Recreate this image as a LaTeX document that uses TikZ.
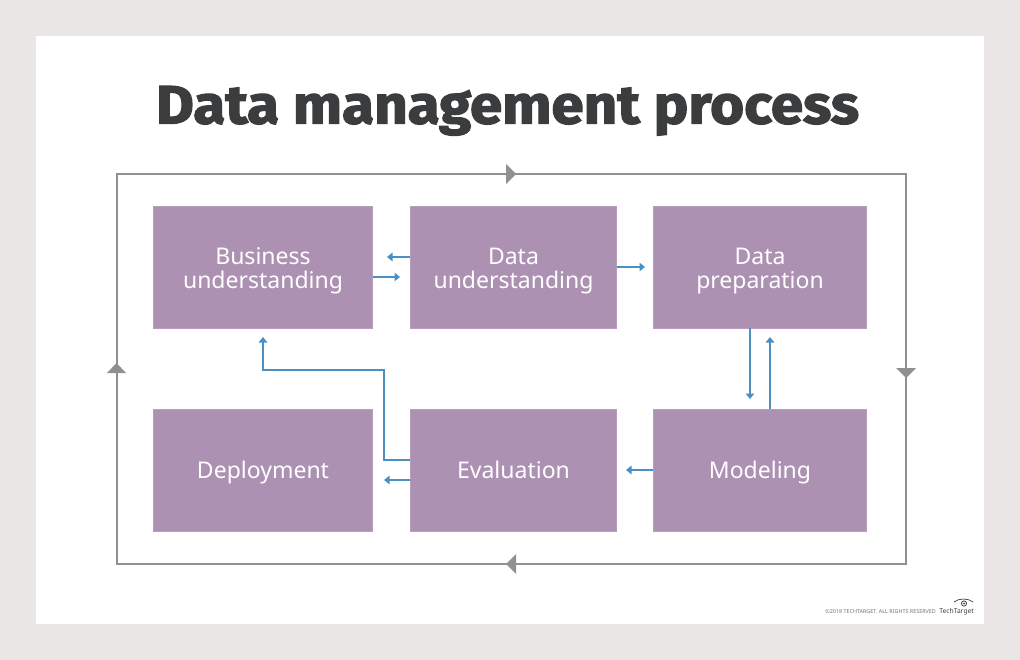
\documentclass[tikz,border=0pt]{standalone}
\usepackage{fontspec}
\setmainfont{Noto Sans}
\newfontfamily\titlefont{Fira Sans}[UprightFont=* Bold,RawFeature={embolden=2.4},FakeStretch=1.08]
\usetikzlibrary{arrows.meta,calc}
\definecolor{bgout}{HTML}{EAE6E5}
\definecolor{boxfill}{HTML}{AD91B2}
\definecolor{boxline}{HTML}{B79FBB}
\definecolor{blueline}{HTML}{4A90C4}
\definecolor{loopline}{HTML}{8F9092}
\definecolor{titlecol}{HTML}{3B3C3E}
\tikzset{
  x=1pt,y=-1pt,
  stepbox/.style={draw=boxline,line width=0.8pt,fill=boxfill,inner sep=0pt,anchor=north west,minimum height=121.2pt},
  steptext/.style={text=white,inner sep=0pt,align=center,font=\fontsize{23}{23.5}\selectfont},
  flow/.style={draw=blueline,line width=1.3pt,-{Triangle[width=8.5pt,length=5.5pt]}},
  loopedge/.style={draw=loopline,line width=1.4pt},
  loophead/.style={fill=loopline,draw=none},
}
\begin{document}
\begin{tikzpicture}
\useasboundingbox (0,0) rectangle (1020,660);
\fill[bgout] (0,0) rectangle (1020,660);
\fill[white] (36,36) rectangle (984,624);
\node[font=\titlefont\fontsize{54}{60}\selectfont,text=titlecol,inner sep=0pt,anchor=base] (title) at (507.5,123.5) {Data management process};

% outer loop
\coordinate (lnw) at (117,174);
\coordinate (lne) at (906,174);
\coordinate (lse) at (906,564);
\coordinate (lsw) at (117,564);
\draw[loopedge] (lnw) -- (lne) -- (lse) -- (lsw) -- cycle;
\fill[loophead] (506,164) -- (516,174) -- (506,184) -- cycle;
\fill[loophead] (896,368) -- (916,368) -- (906,378) -- cycle;
\fill[loophead] (516,554) -- (506,564) -- (516,574) -- cycle;
\fill[loophead] (107,373) -- (126,373) -- (116.5,363) -- cycle;

% boxes
\node[stepbox,minimum width=218.4pt] (bu) at (153.4,206.4) {};
\node[stepbox,minimum width=205.4pt] (du) at (410.4,206.4) {};
\node[stepbox,minimum width=212.4pt] (dp) at (653.4,206.4) {};
\node[stepbox,minimum width=218.4pt] (dep) at (153.4,409.4) {};
\node[stepbox,minimum width=205.4pt] (ev) at (410.4,409.4) {};
\node[stepbox,minimum width=212.4pt] (mo) at (653.4,409.4) {};

% labels
\node[steptext] (tbu) at ([yshift=-3.5pt]bu.center) {Business\\understanding};
\node[steptext] (tdu) at ([yshift=-3.5pt]du.center) {Data\\understanding};
\node[steptext] (tdp) at ([yshift=-3.5pt]dp.center) {Data\\preparation};
\node[steptext,anchor=base] (tdep) at ([yshift=-8pt]dep.center) {Deployment};
\node[steptext,anchor=base] (tev) at ([yshift=-8pt]ev.center) {Evaluation};
\node[steptext,anchor=base] (tmo) at ([yshift=-8pt]mo.center) {Modeling};

% connector free ends
\coordinate (a1) at (387,257);
\coordinate (a2) at (400,277);
\coordinate (a3) at (645,267);
\coordinate (a4) at (750,399);
\coordinate (a5) at (770,337);
\coordinate (a6) at (626,470);
\coordinate (a7) at (384,480);
\coordinate (a8) at (263,337);

\draw[flow] (du.west |- a1) -- (a1);
\draw[flow] (bu.east |- a2) -- (a2);
\draw[flow] (du.east |- a3) -- (a3);
\draw[flow] (dp.south -| a4) -- (a4);
\draw[flow] (mo.north -| a5) -- (a5);
\draw[flow] (mo.west |- a6) -- (a6);
\draw[flow] (ev.west |- a7) -- (a7);
\draw[flow] (ev.west |- 0,460) -- (384,460) -- (384,370) -- (263,370) -- (a8);

% footer
\node[font=\fontsize{5.4}{6}\selectfont,text=black!55,anchor=east,inner sep=0pt] (copy) at (936,611.5) {©2018 TECHTARGET. ALL RIGHTS RESERVED};
\node[font=\fontsize{6.7}{8}\selectfont\bfseries,text=black!75,anchor=east,inner sep=0pt] (tt) at (974,611.5) {TechTarget};
\draw[black!75,line width=0.7pt] (954,602) .. controls (959,598) and (968,598) .. (973,602);
\draw[black!75,line width=0.8pt] (964,603.5) circle (2.6);
\fill[black!75] (964,603.5) circle (1);
\end{tikzpicture}
\end{document}
